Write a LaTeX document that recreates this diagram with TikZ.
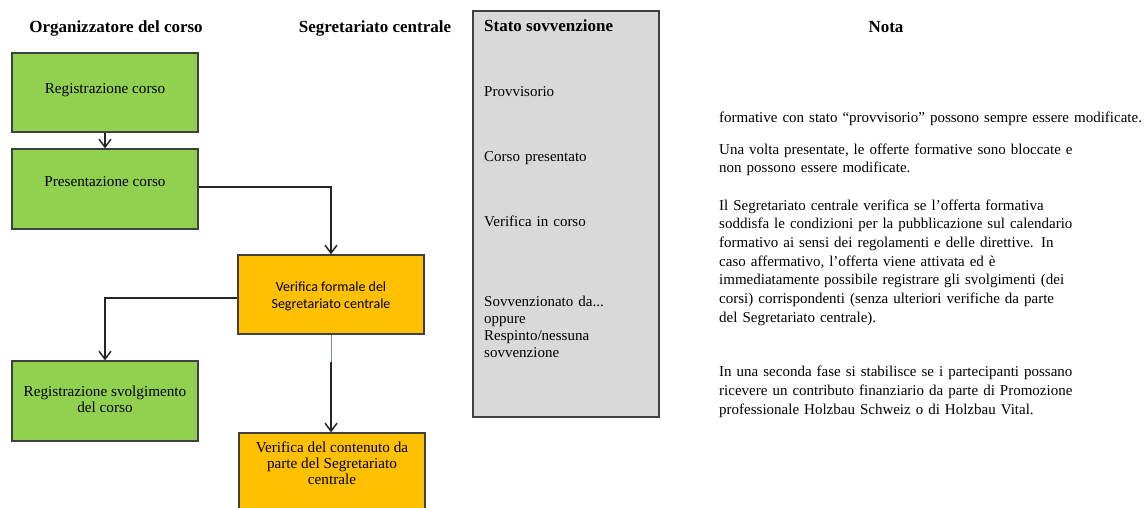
\documentclass[tikz,border=0pt]{standalone}
\usepackage{fontspec}
\setmainfont{Liberation Serif}
\newfontfamily\calibri{Carlito}
\usetikzlibrary{arrows.meta,calc}
\definecolor{boxgreen}{HTML}{92D050}
\definecolor{boxorange}{HTML}{FFC000}
\definecolor{boxgray}{HTML}{D9D9D9}
\definecolor{edgegray}{HTML}{404040}
\definecolor{linegray}{HTML}{262626}
\definecolor{lineblue}{HTML}{6E8CC0}
\tikzset{
  box/.style={draw=edgegray, line width=1.2pt, minimum width=186pt, inner sep=0pt},
  gbox/.style={box, fill=boxgreen},
  obox/.style={box, fill=boxorange},
  btxt/.style={font=\rmfamily\fontsize{15.2}{16.5}\selectfont, align=center, inner sep=0pt},
  ntxt/.style={font=\rmfamily\fontsize{15}{18.67}\selectfont, align=left, text width=440pt, inner sep=0pt, anchor=base west},
  head/.style={font=\rmfamily\fontsize{17}{18}\selectfont\bfseries, inner sep=0pt, anchor=base},
  conn/.style={draw=linegray, line width=1.2pt, -{Straight Barb[length=8pt,width=12pt,line width=1.5pt]}},
}
\begin{document}
\begin{tikzpicture}[x=1pt,y=-1pt]
\useasboundingbox (0,0) rectangle (1145,507);
\clip (0,0) rectangle (1145,507);
% headers
\node[head] (h1) at (116,32) {Organizzatore del corso};
\node[head] (h2) at (375,32) {Segretariato centrale};
\node[head] (h4) at (886,32) {Nota};
% boxes
\node[gbox, minimum height=79pt] (b1) at (105,92.5) {};
\node[btxt, anchor=base] (t1) at (105,93) {Registrazione corso};
\node[gbox, minimum height=80pt] (b2) at (105,189) {};
\node[btxt, anchor=base] (t2) at (105,186) {Presentazione corso};
\node[obox, minimum height=79pt] (b3) at (331,294.5) {};
\node[btxt, font=\calibri\fontsize{14}{17.5}\selectfont, anchor=base] (t3a) at (331,291) {Verifica formale del};
\node[btxt, font=\calibri\fontsize{14}{17.5}\selectfont, anchor=base] (t3b) at (331,308.5) {Segretariato centrale};
\node[gbox, minimum height=80pt] (b4) at (105,401) {};
\node[btxt, anchor=base] (t4a) at (105,396) {Registrazione svolgimento};
\node[btxt, anchor=base] (t4b) at (105,412) {del corso};
\node[obox, minimum height=90pt] (b5) at (332,478) {};
\node[btxt, anchor=base] (t5a) at (332,452) {Verifica del contenuto da};
\node[btxt, anchor=base] (t5b) at (332,468) {parte del Segretariato};
\node[btxt, anchor=base] (t5c) at (332,484.5) {centrale};
% status column
\node[draw=edgegray, line width=1.2pt, fill=boxgray, minimum width=186pt, minimum height=406pt, inner sep=0pt] (st) at (566,214) {};
\node[head, anchor=base west] (s0) at (484,31) {Stato sovvenzione};
\node[ntxt] (s1) at (484,96) {Provvisorio};
\node[ntxt] (s2) at (484,161) {Corso presentato};
\node[ntxt] (s3) at (484,226) {Verifica in corso};
\node[ntxt, font=\rmfamily\fontsize{15}{17.2}\selectfont] (s4) at (484,306) {Sovvenzionato da...\\oppure\\Respinto/nessuna\\sovvenzione};
% notes
\node[ntxt] (n1) at (719,122) {formative con stato “provvisorio” possono sempre essere modificate.};
\node[ntxt] (n2) at (719,154) {Una volta presentate, le offerte formative sono bloccate e\\non possono essere modificate.};
\node[ntxt] (n3) at (719,210) {Il Segretariato centrale verifica se l’offerta formativa\\soddisfa le condizioni per la pubblicazione sul calendario\\formativo ai sensi dei regolamenti e delle direttive. In\\caso affermativo, l’offerta viene attivata ed è\\immediatamente possibile registrare gli svolgimenti (dei\\corsi) corrispondenti (senza ulteriori verifiche da parte\\del Segretariato centrale).};
\node[ntxt] (n4) at (719,376.7) {In una seconda fase si stabilisce se i partecipanti possano\\ricevere un contributo finanziario da parte di Promozione\\professionale Holzbau Schweiz o di Holzbau Vital.};
% connectors
\draw[conn] (b1.south) -- (b2.north);
\draw[conn] (b2.east |- 0,187) -| (b3.north);
\draw[conn] (b3.west |- 0,298) -| (b4.north);
\coordinate (mid) at (b3.south |- 0,362);
\draw[draw=lineblue, line width=1pt] (b3.south) -- (mid);
\draw[conn] (mid) -- (mid |- b5.north);
\end{tikzpicture}
\end{document}
